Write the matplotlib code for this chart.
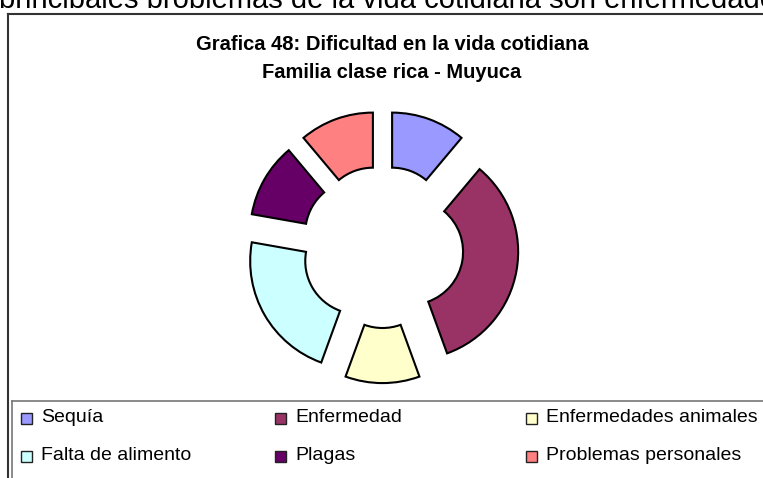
import matplotlib
matplotlib.use("Agg")
import matplotlib.pyplot as plt
from matplotlib.patches import Rectangle
from matplotlib.lines import Line2D

plt.rcParams['font.family'] = ['Liberation Sans', 'DejaVu Sans']

# data
labels = ["Sequía", "Enfermedad", "Enfermedades animales",
          "Falta de alimento", "Plagas", "Problemas personales"]
values = [1, 3, 1, 2, 1, 1]
colors = ["#9999FF", "#993366", "#FFFFCC", "#CCFFFF", "#660066", "#FF8080"]

W, H = 763, 478
fig = plt.figure(figsize=(W / 100, H / 100), dpi=100)

# cut-off sentence from the page above the chart
fig.text(-1 / W, 1 - 8 / H, "principales problemas de la vida cotidiana son enfermedades",
         fontsize=21, ha='left', va='baseline', color='black', zorder=1)
# white chart object covering the lower part of that sentence
fig.add_artist(Rectangle((0, 0), 1, 1 - 8 / H, transform=fig.transFigure,
                         facecolor='white', edgecolor='none', zorder=2))

# chart frame
fig.add_artist(Line2D([8 / W, 8 / W], [0, 1 - 14 / H], transform=fig.transFigure,
                      color='#333333', lw=1.5, zorder=3))
fig.add_artist(Line2D([8 / W, 1], [1 - 14 / H, 1 - 14 / H], transform=fig.transFigure,
                      color='#333333', lw=1.5, zorder=3))
# legend frame
fig.add_artist(Line2D([12 / W, 12 / W], [0, 1 - 401 / H], transform=fig.transFigure,
                      color='#777777', lw=1.2, zorder=3))
fig.add_artist(Line2D([12 / W, 1], [1 - 401 / H, 1 - 401 / H], transform=fig.transFigure,
                      color='#777777', lw=1.2, zorder=3))

# title
fig.text(392 / W, 1 - 45 / H, "Grafica 48: Dificultad en la vida cotidiana",
         fontsize=14.5, fontweight='bold', ha='center', va='center', zorder=3)
fig.text(392 / W, 1 - 72 / H, "Familia clase rica - Muyuca",
         fontsize=14.5, fontweight='bold', ha='center', va='center', zorder=3)

# donut
cx, cy, R = 382.5, 247, 108
ax = fig.add_axes([(cx - 1.5 * R) / W, 1 - (cy + 1.5 * R) / H, 3 * R / W, 3 * R / H])
ax.set_zorder(4)
ax.pie(values, colors=colors, startangle=90, counterclock=False,
       explode=[0.26] * len(values), radius=1,
       wedgeprops=dict(width=0.51, edgecolor='black', linewidth=1.5))
ax.set_xlim(-1.5, 1.5)
ax.set_ylim(-1.5, 1.5)
ax.set_aspect('equal')
ax.axis('off')

# legend, 3 columns filled row by row
col_x = [21, 275, 526]
row_y = [418, 456]
for i, (lab, col) in enumerate(zip(labels, colors)):
    x = col_x[i % 3]
    y = row_y[i // 3]
    fig.add_artist(Rectangle((x / W, 1 - (y + 6) / H), 11 / W, 11 / H,
                             transform=fig.transFigure, facecolor=col,
                             edgecolor='#222222', lw=1.0, zorder=3))
    fig.text((x + 20) / W, 1 - y / H, lab, fontsize=14, ha='left', va='center', zorder=3)

fig.savefig("out.png", dpi=100)
